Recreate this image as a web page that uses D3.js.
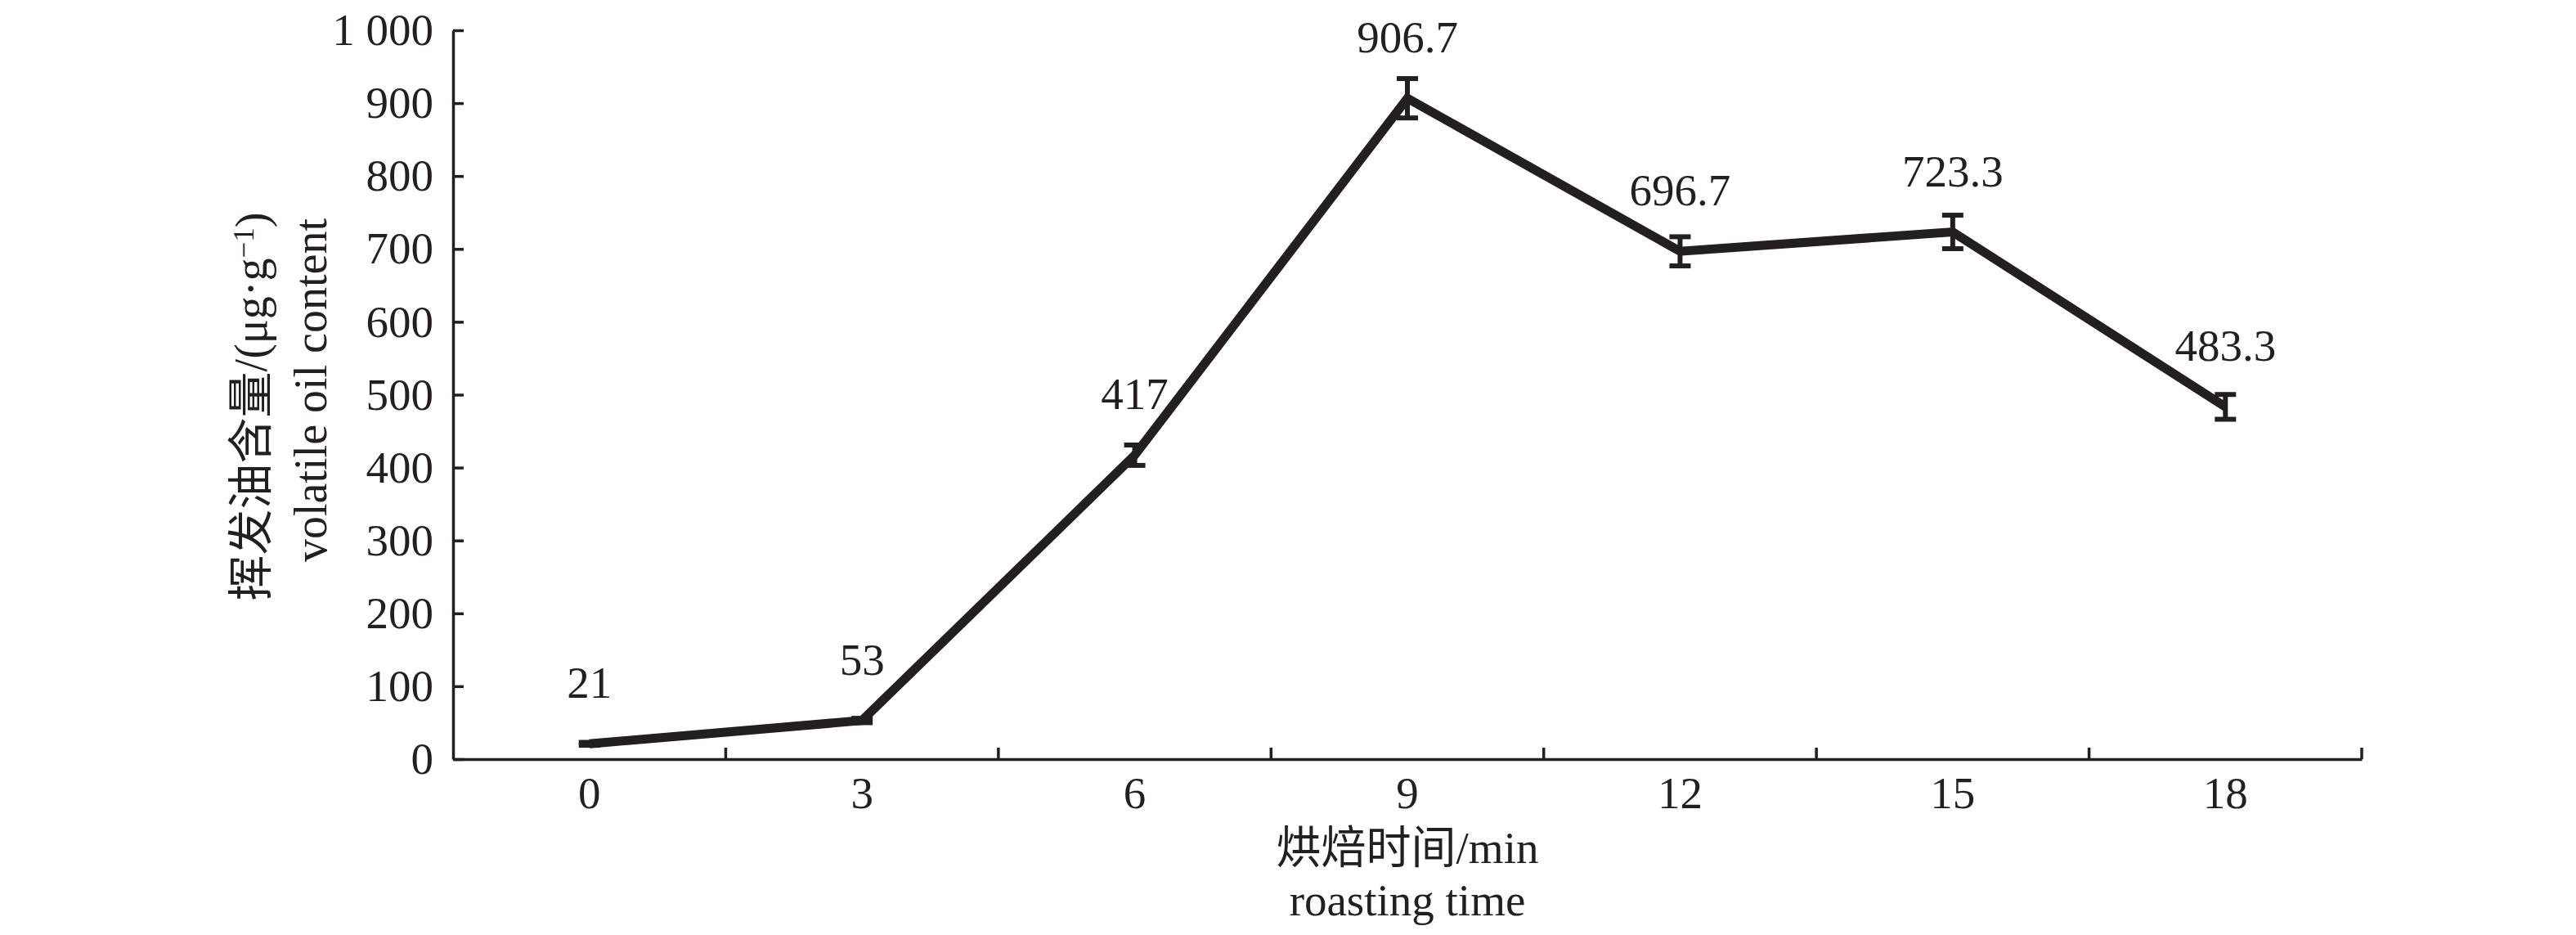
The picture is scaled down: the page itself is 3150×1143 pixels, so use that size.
<!DOCTYPE html>
<html>
<head>
<meta charset="utf-8">
<script src="https://cdn.jsdelivr.net/npm/d3@7"></script>
<style>
  body { margin: 0; background: #fff; }
  text { font-family: "Liberation Serif", "Noto Sans CJK SC", serif; fill: #231f20; }
</style>
</head>
<body>
<div id="chart"></div>
<script>
// roasting time (min) and volatile oil content (µg/g)
const times = ["0", "3", "6", "9", "12", "15", "18"];
const values = [21, 53, 417, 906.7, 696.7, 723.3, 483.3];
const errors = [2, 3, 14, 27, 20, 23, 17];
const labels = ["21", "53", "417", "906.7", "696.7", "723.3", "483.3"];
const yTicks = [0, 100, 200, 300, 400, 500, 600, 700, 800, 900, 1000];

const width = 3150;
const height = 1143;
const ink = "#231f20";
const fs = 55;
const margin = { left: 554, right: 262, top: 37, bottom: 215 };

const svg = d3.select("#chart").append("svg")
  .attr("width", width).attr("height", height)
  .style("background", "#fff");

const x = d3.scaleBand()
  .domain(times)
  .range([margin.left, width - margin.right])
  .padding(0);

const y = d3.scaleLinear()
  .domain([0, 1000])
  .range([height - margin.bottom, margin.top]);

const cx = d => x(d) + x.bandwidth() / 2;

// "1 000" style thousands
const fmt = d3.formatLocale({ decimal: ".", thousands: " ", grouping: [3], currency: ["", ""] }).format(",");

// y axis, ticks inward
svg.append("g")
  .attr("transform", `translate(${margin.left},0)`)
  .call(d3.axisLeft(y).tickValues(yTicks).tickFormat(fmt).tickSize(-13).tickSizeOuter(0).tickPadding(24));

// x axis, labels at band centres
const xAxis = svg.append("g")
  .attr("transform", `translate(0,${y(0)})`)
  .call(d3.axisBottom(x).tickSize(0).tickSizeOuter(0).tickPadding(21));

// ticks at band boundaries, pointing up
xAxis.selectAll(".bound")
  .data(times)
  .enter()
  .append("line")
  .attr("class", "bound")
  .attr("x1", d => x(d) + x.bandwidth())
  .attr("x2", d => x(d) + x.bandwidth())
  .attr("y1", 0)
  .attr("y2", -14);

svg.selectAll(".domain, .tick line, .bound")
  .attr("stroke", ink)
  .attr("stroke-width", 3.5);

svg.selectAll(".tick text")
  .attr("font-size", fs)
  .attr("font-family", "Liberation Serif")
  .attr("fill", ink);

// error bars
const eb = svg.append("g").attr("class", "errorbars");
const capW = 13;
times.forEach(function (t, i) {
  const lo = y(values[i] - errors[i]);
  const hi = y(values[i] + errors[i]);
  eb.append("line")
    .attr("x1", cx(t)).attr("x2", cx(t))
    .attr("y1", lo).attr("y2", hi);
  eb.append("line")
    .attr("x1", cx(t) - capW).attr("x2", cx(t) + capW)
    .attr("y1", lo).attr("y2", lo);
  eb.append("line")
    .attr("x1", cx(t) - capW).attr("x2", cx(t) + capW)
    .attr("y1", hi).attr("y2", hi);
});
eb.selectAll("line").attr("stroke", ink).attr("stroke-width", 6);

// the line
const line = d3.line()
  .x((d, i) => cx(times[i]))
  .y(d => y(d));

svg.append("path")
  .datum(values)
  .attr("d", line)
  .attr("fill", "none")
  .attr("stroke", ink)
  .attr("stroke-width", 11)
  .attr("stroke-linejoin", "miter")
  .attr("stroke-linecap", "butt");

// value labels
svg.append("g")
  .selectAll("text")
  .data(values)
  .enter()
  .append("text")
  .attr("x", (d, i) => cx(times[i]))
  .attr("y", d => y(d) - 56)
  .attr("text-anchor", "middle")
  .attr("font-size", fs)
  .text((d, i) => labels[i]);

// x title
const midX = (margin.left + width - margin.right) / 2;
svg.append("text")
  .attr("x", midX).attr("y", 1055)
  .attr("text-anchor", "middle")
  .attr("font-size", fs)
  .text("烘焙时间/min");
svg.append("text")
  .attr("x", midX).attr("y", 1119)
  .attr("text-anchor", "middle")
  .attr("font-size", fs)
  .text("roasting time");

// y title, two rotated lines
const yt1 = svg.append("text")
  .attr("transform", "translate(326,497) rotate(-90)")
  .attr("text-anchor", "middle")
  .attr("font-size", 56);
yt1.append("tspan").text("挥发油含量/(μg·g");
yt1.append("tspan").attr("dy", "-0.45em").attr("font-size", 35).text("−1");
yt1.append("tspan").attr("dy", "0.3em").text(")");

svg.append("text")
  .attr("transform", "translate(399,477) rotate(-90)")
  .attr("text-anchor", "middle")
  .attr("font-size", 56)
  .text("volatile oil content");
</script>
</body>
</html>
